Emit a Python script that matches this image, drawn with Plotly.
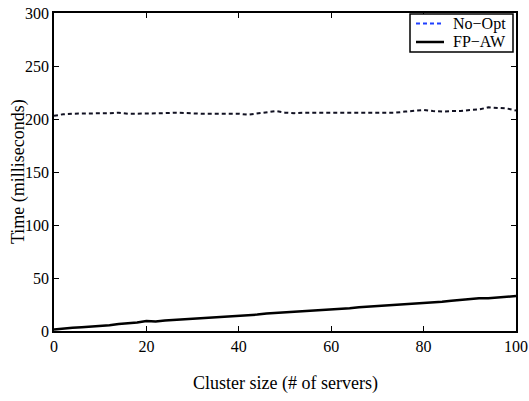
import plotly.graph_objects as go

x_vals = list(range(0, 101, 2))
no_opt = [203, 204.5, 205, 205, 205, 205, 205.5, 206, 205, 205, 205, 205, 205.5, 206, 205.5, 205,
          205, 205, 205, 205.5, 205, 204, 205, 206, 207.5, 206, 205.5, 206, 206, 206, 206.5, 206,
          206, 206.5, 206, 206.5, 206.5, 206, 207, 208, 208.5, 207.5, 207, 207.5, 207.5, 208.5,
          209, 211, 210.5, 210, 208]
fp_aw = [1.5, 2.5, 3, 3.5, 4, 5, 5.5, 6.5, 7, 8, 9.5, 9, 10, 10.5, 11, 12, 12.5, 13, 13.5, 14,
         14.5, 15, 15.5, 16.5, 17, 17.5, 18, 18.5, 19.5, 20, 20.5, 21, 21.5, 22.5, 23, 23.5, 24,
         24.5, 25, 26, 26.5, 27, 27.5, 28.5, 29.5, 30, 31, 31, 31.5, 32.5, 33]
series_names = ["No\u2212Opt", "FP\u2212AW"]
x_ticks = [0, 20, 40, 60, 80, 100]
y_ticks = [0, 50, 100, 150, 200, 250, 300]

font = "Liberation Serif, Times New Roman, serif"
W, H = 529, 401
ML, MR, MT, MB = 54, 13, 13, 70
PW, PH = W - ML - MR, H - MT - MB


def px(x):
    return (x - ML) / PW


def py(y):
    return (H - MB - y) / PH


fig = go.Figure()
fig.add_trace(go.Scatter(x=x_vals, y=no_opt, mode="lines", name=series_names[0],
                         showlegend=False,
                         line=dict(color="#111122", width=2, dash="4px,3px")))
fig.add_trace(go.Scatter(x=x_vals, y=fp_aw, mode="lines", name=series_names[1],
                         showlegend=False,
                         line=dict(color="black", width=2.5)))

axis_common = dict(showgrid=False, zeroline=False, showline=True, linecolor="black",
                   linewidth=1.5, mirror="ticks", ticks="inside", ticklen=5,
                   tickcolor="black", automargin=False, ticklabeloverflow="allow",
                   tickfont=dict(family=font, size=16, color="black"))

# legend box drawn in paper coordinates
lx0, lx1, ly0, ly1 = 410, 513, 14, 52
shapes = [
    dict(type="rect", xref="paper", yref="paper", x0=px(lx0), x1=px(lx1),
         y0=py(ly1), y1=py(ly0), line=dict(color="black", width=1.5), fillcolor="white",
         layer="above"),
    dict(type="line", xref="paper", yref="paper", x0=px(416), x1=px(444),
         y0=py(23.5), y1=py(23.5), line=dict(color="#1f3fff", width=2, dash="4px,3px"),
         layer="above"),
    dict(type="line", xref="paper", yref="paper", x0=px(416), x1=px(444),
         y0=py(42), y1=py(42), line=dict(color="black", width=2.5), layer="above"),
]

annotations = [
    dict(text=series_names[0], xref="paper", yref="paper", x=px(451), y=py(23.5),
         xanchor="left", yanchor="middle", showarrow=False,
         font=dict(family=font, size=16, color="black")),
    dict(text=series_names[1], xref="paper", yref="paper", x=px(451), y=py(42),
         xanchor="left", yanchor="middle", showarrow=False,
         font=dict(family=font, size=16, color="black")),
    dict(text="Cluster size (# of servers)", xref="paper", yref="paper",
         x=0.5, y=py(383), xanchor="center", yanchor="middle", showarrow=False,
         font=dict(family=font, size=18, color="black")),
    dict(text="Time (milliseconds)", xref="paper", yref="paper",
         x=px(18), y=0.5, xanchor="center", yanchor="middle", showarrow=False,
         textangle=-90, font=dict(family=font, size=18, color="black")),
]

fig.update_layout(
    width=W, height=H,
    margin=dict(l=ML, r=MR, t=MT, b=MB),
    paper_bgcolor="white", plot_bgcolor="white",
    font=dict(family=font, color="black"),
    showlegend=False,
    xaxis=dict(range=[0, 100], tickvals=x_ticks, **axis_common),
    yaxis=dict(range=[0, 300], tickvals=y_ticks, **axis_common),
    shapes=shapes,
    annotations=annotations,
)

fig.write_html("out.html")
